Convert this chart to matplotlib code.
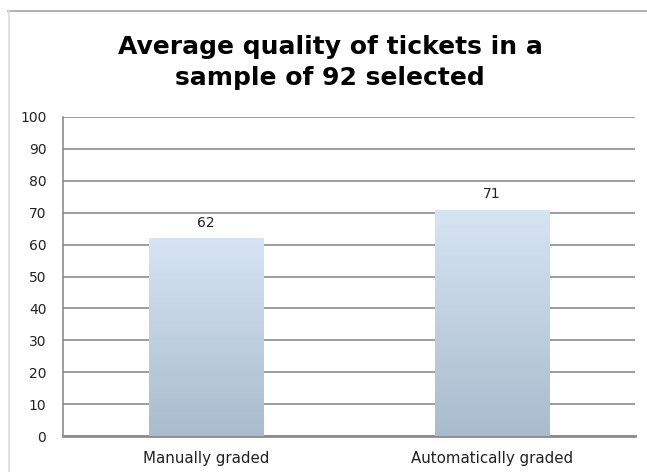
import numpy as np
import matplotlib.pyplot as plt
from matplotlib.colors import LinearSegmentedColormap
from matplotlib.lines import Line2D

categories = ['Manually graded', 'Automatically graded']
values = [62, 71]
yticks = list(range(0, 101, 10))
title = 'Average quality of tickets in a\nsample of 92 selected'

fig = plt.figure(figsize=(6.47, 4.72), dpi=100)
fig.patch.set_facecolor('white')

# outer chart border (top and left only visible)
fig.add_artist(Line2D([8/647, 1], [1-11/472, 1-11/472], color='#a6a6a6', lw=1.2))
fig.add_artist(Line2D([9/647, 9/647], [0, 1-11/472], color='#dcdcdc', lw=1.2))

ax = fig.add_axes([63/647, 36/472, (635-63)/647, (436-117)/472])

x = np.arange(len(categories))
bars = ax.bar(x, values, width=0.4, color='none', edgecolor='none', zorder=3)

# vertical gradient in each bar
cmap = LinearSegmentedColormap.from_list('bar', ['#a9bccd', '#d6e4f3'])
grad = np.linspace(0, 1, 256).reshape(-1, 1)
for b in bars:
    x0, y0, w, h = b.get_x(), b.get_y(), b.get_width(), b.get_height()
    im = ax.imshow(grad, cmap=cmap, origin='lower', aspect='auto',
                   extent=[x0, x0 + w, y0, y0 + h], zorder=3)
    im.set_clip_path(b)
    ax.annotate(str(int(h)), (x0 + w/2, h), xytext=(0, 6), textcoords='offset points',
                ha='center', va='bottom', fontsize=10, color='#222222')

ax.set_xlim(-0.5, 1.5)
ax.set_ylim(0, 100)
ax.set_yticks(yticks)
ax.set_xticks(x)
ax.set_xticklabels(categories, fontsize=10.8, color='#222222')
ax.tick_params(axis='y', labelsize=10, length=0, pad=12, colors='#222222')
ax.tick_params(axis='x', length=0, pad=11)
ax.grid(axis='y', color='#8c8c8c', lw=1.2, zorder=1)
ax.set_axisbelow(True)

for s in ['top', 'right']:
    ax.spines[s].set_visible(False)
ax.spines['left'].set_color('#8c8c8c')
ax.spines['left'].set_linewidth(1.2)
ax.spines['bottom'].set_color('#8c8c8c')
ax.spines['bottom'].set_linewidth(2)

fig.text(0.51, 1 - 62.5/472, title, ha='center', va='center', fontsize=18,
         fontweight='bold', linespacing=1.42)

fig.savefig('out.png', dpi=100)
